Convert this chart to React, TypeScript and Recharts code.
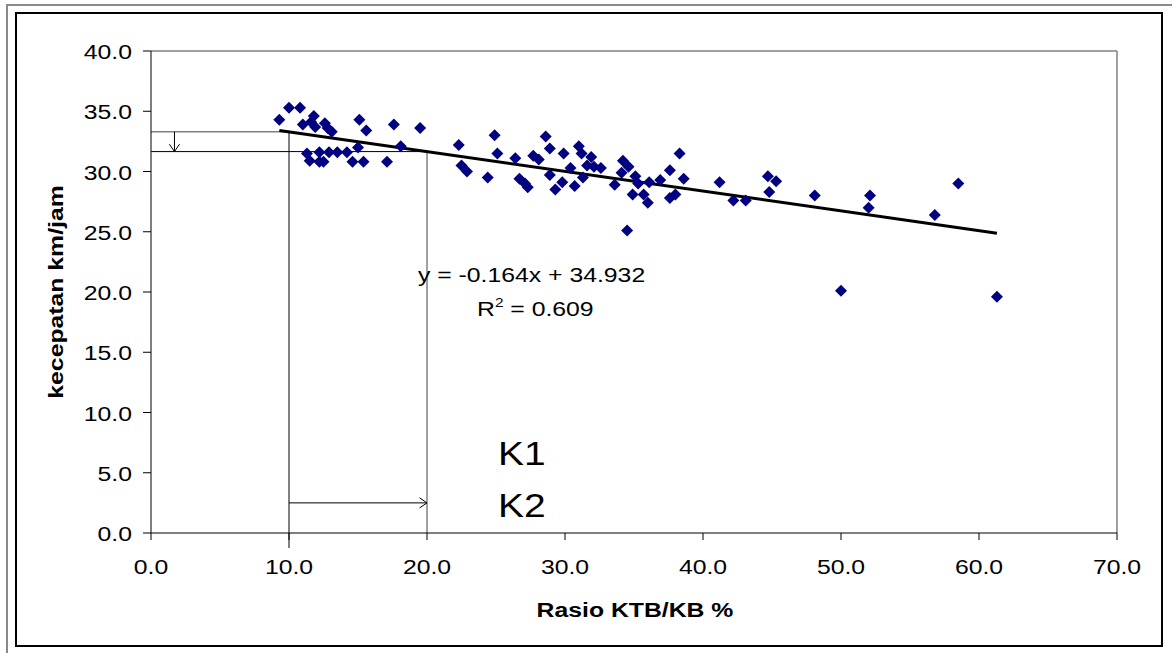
import React from 'react';
import { ScatterChart, Scatter, XAxis, YAxis, ReferenceLine } from 'recharts';

// Rasio KTB/KB (%) vs kecepatan (km/jam)
const ratioKtb = [
  9.3, 10.0, 10.8, 11.0, 11.6, 11.8, 11.9, 12.6, 12.8, 13.1, 15.1, 15.6, 17.6, 19.5, 18.1, 15.0,
  11.3, 12.2, 12.9, 13.5, 14.2, 11.5, 12.2, 12.5, 14.6, 15.4, 17.1,
  22.3, 22.5, 22.9, 24.4, 24.9, 25.1, 26.4, 26.7, 27.1, 27.3, 27.7, 28.1, 28.6, 28.9, 28.9,
  29.3, 29.8, 29.9, 30.4, 30.7, 31.0, 31.2, 31.3, 31.6, 31.9, 32.1, 32.6, 33.6, 34.1, 34.2,
  34.6, 34.5, 34.9, 35.1, 35.3, 35.7, 36.0, 36.1, 36.9, 37.6, 37.6, 38.0, 38.3, 38.6,
  41.2, 42.2, 43.1, 44.7, 44.8, 45.3, 48.1, 50.0, 52.0, 52.1, 56.8, 58.5, 61.3,
];
const speedKmh = [
  34.3, 35.3, 35.3, 33.9, 34.1, 34.6, 33.7, 34.0, 33.6, 33.3, 34.3, 33.4, 33.9, 33.6, 32.1, 32.0,
  31.5, 31.6, 31.6, 31.6, 31.6, 30.9, 30.8, 30.8, 30.8, 30.8, 30.8,
  32.2, 30.5, 30.0, 29.5, 33.0, 31.5, 31.1, 29.4, 29.0, 28.7, 31.3, 31.0, 32.9, 31.9, 29.7,
  28.5, 29.1, 31.5, 30.3, 28.8, 32.1, 31.5, 29.5, 30.5, 31.2, 30.4, 30.3, 28.9, 29.9, 30.9,
  30.4, 25.1, 28.1, 29.6, 29.0, 28.1, 27.4, 29.1, 29.3, 30.1, 27.8, 28.1, 31.5, 29.4,
  29.1, 27.6, 27.6, 29.6, 28.3, 29.2, 28.0, 20.1, 27.0, 28.0, 26.4, 29.0, 19.6,
];

const xTicks = [0, 10, 20, 30, 40, 50, 60, 70];
const yTicks = [0, 5, 10, 15, 20, 25, 30, 35, 40];

// linear trend from the original chart
const slope = -0.164;
const intercept = 34.932;
const trendStart = 9.3;
const trendEnd = 61.3;

// reading guides K1 / K2
const k1Ratio = 10;
const k2Ratio = 20;
const downArrowX = 1.7;
const rightArrowY = 2.5;

const points = ratioKtb.map((x, i) => ({ x, y: speedKmh[i] }));
const trendAt = (x: number) => slope * x + intercept;

const FONT = '"Liberation Sans", Arial, sans-serif';
const STRETCH = 1.18;

const Diamond = (props: any) => {
  const { cx, cy } = props;
  const r = 6;
  return (
    <polygon
      points={`${cx},${cy - r} ${cx + r},${cy} ${cx},${cy + r} ${cx - r},${cy}`}
      fill="#000080"
    />
  );
};

const Stretched = ({ x, y, anchor = 'start', size = 21, bold = false, rotate = 0, children }: any) => (
  <text
    transform={`translate(${x},${y}) rotate(${rotate}) scale(${STRETCH},1)`}
    textAnchor={anchor}
    fontSize={size}
    fontWeight={bold ? 'bold' : 'normal'}
    fontFamily={FONT}
    fill="#000"
  >
    {children}
  </text>
);

const XTick = (props: any) => {
  const { x, payload } = props;
  return (
    <Stretched x={x} y={574} anchor="middle">
      {Number(payload.value).toFixed(1)}
    </Stretched>
  );
};

const YTick = (props: any) => {
  const { y, payload } = props;
  return (
    <Stretched x={132} y={y + 8} anchor="end">
      {Number(payload.value).toFixed(1)}
    </Stretched>
  );
};

const ArrowLine = (props: any) => {
  const { x1, y1, x2, y2 } = props;
  const ang = Math.atan2(y2 - y1, x2 - x1);
  const len = 9;
  const spread = 0.6;
  const ax = x2 - len * Math.cos(ang - spread);
  const ay = y2 - len * Math.sin(ang - spread);
  const bx = x2 - len * Math.cos(ang + spread);
  const by = y2 - len * Math.sin(ang + spread);
  return (
    <g stroke="#000" strokeWidth={1} fill="none">
      <line x1={x1} y1={y1} x2={x2} y2={y2} />
      <polyline points={`${ax},${ay} ${x2},${y2} ${bx},${by}`} />
    </g>
  );
};

export default function App() {
  const y10 = trendAt(k1Ratio);
  const y20 = trendAt(k2Ratio);
  return (
    <div
      style={{
        position: 'absolute',
        left: 0,
        top: 0,
        width: 1172,
        height: 653,
        background: '#fff',
        overflow: 'hidden',
        fontFamily: FONT,
      }}
    >
      <div style={{ position: 'absolute', left: 6, top: 4, width: 1166, height: 2, background: '#8a8a8a' }} />
      <div style={{ position: 'absolute', left: 6, top: 4, width: 2, height: 649, background: '#8a8a8a' }} />
      <div
        style={{
          position: 'absolute',
          left: 15,
          top: 12,
          width: 1148,
          height: 635,
          border: '2px solid #000',
          boxSizing: 'border-box',
        }}
      />
      <div style={{ position: 'absolute', left: 0, top: 0 }}>
        <ScatterChart width={1172} height={653} margin={{ top: 51, right: 55, bottom: 60, left: 91 }}>
          <XAxis
            type="number"
            dataKey="x"
            domain={[0, 70]}
            ticks={xTicks}
            interval={0}
            tick={<XTick />}
            tickSize={7}
            height={60}
            stroke="#000"
            allowDataOverflow
          />
          <YAxis
            type="number"
            dataKey="y"
            domain={[0, 40]}
            ticks={yTicks}
            interval={0}
            tick={<YTick />}
            tickSize={8}
            width={60}
            stroke="#000"
            allowDataOverflow
          />
          <ReferenceLine y={40} stroke="#808080" strokeWidth={1.5} />
          <ReferenceLine x={70} stroke="#808080" strokeWidth={1.5} />
          <ReferenceLine
            segment={[{ x: 0, y: y10 }, { x: k1Ratio, y: y10 }]}
            stroke="#808080"
            strokeWidth={1.5}
          />
          <ReferenceLine segment={[{ x: 0, y: y20 }, { x: k2Ratio, y: y20 }]} stroke="#000" strokeWidth={1} />
          <ReferenceLine
            segment={[{ x: k1Ratio, y: y10 }, { x: k1Ratio, y: -1.25 }]}
            stroke="#000"
            strokeWidth={1}
            ifOverflow="visible"
          />
          <ReferenceLine
            segment={[{ x: k2Ratio, y: y20 }, { x: k2Ratio, y: 0 }]}
            stroke="#808080"
            strokeWidth={1.5}
          />
          <ReferenceLine
            segment={[{ x: downArrowX, y: y10 }, { x: downArrowX, y: y20 }]}
            shape={ArrowLine}
          />
          <ReferenceLine
            segment={[{ x: k1Ratio, y: rightArrowY }, { x: k2Ratio, y: rightArrowY }]}
            shape={ArrowLine}
          />
          <Scatter data={points} shape={<Diamond />} isAnimationActive={false} />
          <ReferenceLine
            segment={[
              { x: trendStart, y: trendAt(trendStart) },
              { x: trendEnd, y: trendAt(trendEnd) },
            ]}
            stroke="#000"
            strokeWidth={3}
          />
        </ScatterChart>
      </div>
      <svg
        width={1172}
        height={653}
        style={{ position: 'absolute', left: 0, top: 0, pointerEvents: 'none' }}
      >
        <Stretched x={635} y={617} anchor="middle" bold>
          Rasio KTB/KB %
        </Stretched>
        <Stretched x={63} y={292} anchor="middle" bold rotate={-90}>
          kecepatan km/jam
        </Stretched>
        <Stretched x={418} y={282}>
          y = -0.164x + 34.932
        </Stretched>
        <text
          transform={`translate(477,316) scale(${STRETCH},1)`}
          fontSize={21}
          fontFamily={FONT}
          fill="#000"
        >
          R<tspan fontSize={13} dy={-9}>2</tspan>
          <tspan dy={9}> = 0.609</tspan>
        </text>
        <Stretched x={498} y={465} size={33}>
          K1
        </Stretched>
        <Stretched x={498} y={517} size={33}>
          K2
        </Stretched>
      </svg>
    </div>
  );
}
